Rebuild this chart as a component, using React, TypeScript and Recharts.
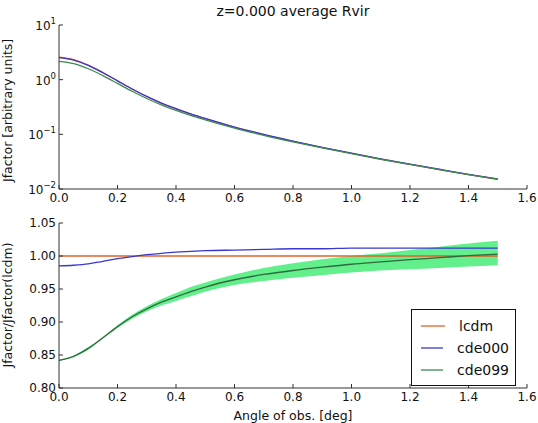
import React from "react";
import {
  ComposedChart,
  Line,
  Area,
  XAxis,
  YAxis,
  Legend,
} from "recharts";

// angle of observation [deg]
const angles = [0, 0.05, 0.1, 0.15, 0.2, 0.25, 0.3, 0.35, 0.4, 0.45, 0.5, 0.6, 0.7, 0.8, 0.9, 1.0, 1.1, 1.2, 1.3, 1.4, 1.5];

// Jfactor, arbitrary units
const jLcdm = [2.57, 2.317, 1.841, 1.349, 0.955, 0.676, 0.492, 0.372, 0.292, 0.234, 0.193, 0.135, 0.0989, 0.0746, 0.0573, 0.0447, 0.0353, 0.0282, 0.0227, 0.0184, 0.015];
const jCde000 = [2.531, 2.285, 1.819, 1.338, 0.951, 0.675, 0.493, 0.373, 0.294, 0.2356, 0.195, 0.136, 0.0999, 0.0754, 0.0579, 0.0452, 0.0357, 0.0285, 0.023, 0.0186, 0.0152];
const jCde099 = [2.164, 1.965, 1.583, 1.182, 0.853, 0.614, 0.453, 0.346, 0.274, 0.2214, 0.184, 0.13, 0.0961, 0.073, 0.0564, 0.0442, 0.035, 0.0281, 0.0227, 0.0184, 0.0151];

// ratio to lcdm
const rLcdm = [1, 1, 1, 1, 1, 1, 1, 1, 1, 1, 1, 1, 1, 1, 1, 1, 1, 1, 1, 1, 1];
const rCde000 = [0.985, 0.986, 0.988, 0.992, 0.996, 0.999, 1.002, 1.004, 1.006, 1.007, 1.008, 1.009, 1.01, 1.011, 1.011, 1.012, 1.012, 1.012, 1.012, 1.012, 1.012];
const rCde099 = [0.842, 0.848, 0.86, 0.876, 0.893, 0.908, 0.92, 0.93, 0.938, 0.946, 0.953, 0.964, 0.972, 0.978, 0.983, 0.9875, 0.991, 0.9945, 0.9975, 1.0005, 1.003];
const bandLow = [0.841, 0.847, 0.858, 0.875, 0.891, 0.905, 0.916, 0.925, 0.932, 0.939, 0.946, 0.956, 0.962, 0.967, 0.971, 0.975, 0.978, 0.98, 0.982, 0.984, 0.986];
const bandHigh = [0.843, 0.849, 0.862, 0.877, 0.895, 0.911, 0.924, 0.935, 0.944, 0.953, 0.96, 0.972, 0.982, 0.989, 0.995, 1.0, 1.004, 1.009, 1.014, 1.019, 1.023];

const xTicks = [0, 0.2, 0.4, 0.6, 0.8, 1.0, 1.2, 1.4, 1.6];
const logTicks = [0.01, 0.1, 1, 10];
const logMinor = [0.02, 0.03, 0.04, 0.05, 0.06, 0.07, 0.08, 0.09, 0.2, 0.3, 0.4, 0.5, 0.6, 0.7, 0.8, 0.9, 2, 3, 4, 5, 6, 7, 8, 9];
const ratioTicks = [0.8, 0.85, 0.9, 0.95, 1.0, 1.05];

const C_LCDM = "#e0622a";
const C_000 = "#3838d0";
const C_099 = "#3d8a52";
const AX = "#333";
const FONT = "DejaVu Sans";

const topData = angles.map((a, i) => ({ a, lcdm: jLcdm[i], cde000: jCde000[i], cde099: jCde099[i] }));
const botData = angles.map((a, i) => ({
  a,
  lcdm: rLcdm[i],
  cde000: rCde000[i],
  cde099: rCde099[i],
  band: [bandLow[i], bandHigh[i]],
}));

const tickStyle = { fontSize: 12, fill: "#111", fontFamily: FONT };
const noLabel = () => <g />;

function LogTick(props: any) {
  const { x, y, payload } = props;
  const exp = Math.round(Math.log10(payload.value));
  const e = exp < 0 ? "\u2212" + Math.abs(exp) : String(exp);
  return (
    <text x={x} y={y} dy={5} textAnchor="end" fontSize={12} fontFamily={FONT} fill="#111">
      10<tspan dy={-6} fontSize={8.5}>{e}</tspan>
    </text>
  );
}

const legendItems = [
  { name: "lcdm", color: C_LCDM },
  { name: "cde000", color: C_000 },
  { name: "cde099", color: C_099 },
];

function LegendBox() {
  return (
    <div
      style={{
        border: "1px solid #111",
        background: "#fff",
        padding: "5px 6px 4px 9px",
        fontFamily: FONT,
        fontSize: 14,
        color: "#111",
        width: 88,
      }}
    >
      {legendItems.map((it) => (
        <div key={it.name} style={{ display: "flex", alignItems: "center", height: 22 }}>
          <svg width={24} height={4} style={{ marginRight: 14 }}>
            <line x1={0} y1={2} x2={24} y2={2} stroke={it.color} strokeWidth={1.3} />
          </svg>
          <span>{it.name}</span>
        </div>
      ))}
    </div>
  );
}

export default function App() {
  return (
    <div style={{ position: "absolute", left: 0, top: 0, width: 538, height: 423, background: "#fff", fontFamily: FONT }}>
      <div
        style={{ position: "absolute", left: 59, width: 468, top: 3, textAlign: "center", fontSize: 14, color: "#111" }}
      >
        z=0.000 average Rvir
      </div>
      <div style={{ position: "absolute", left: 0, top: 0 }}>
        <ComposedChart width={538} height={210} data={topData} margin={{ top: 25, right: 11, left: 9, bottom: 0 }}>
          <XAxis
            xAxisId="b"
            dataKey="a"
            type="number"
            domain={[0, 1.6]}
            ticks={xTicks}
            tickFormatter={(v: number) => v.toFixed(1)}
            height={21}
            tick={tickStyle}
            tickSize={-4}
            tickMargin={8}
            stroke={AX}
          />
          <XAxis xAxisId="t" orientation="top" dataKey="a" type="number" domain={[0, 1.6]} ticks={xTicks} height={0} tick={noLabel} tickSize={-4} stroke={AX} />
          <YAxis
            yAxisId="l"
            scale="log"
            type="number"
            domain={[0.01, 10]}
            allowDataOverflow
            ticks={logTicks}
            width={50}
            tick={<LogTick />}
            tickSize={-4}
            tickMargin={7}
            stroke={AX}
            label={{ value: "Jfactor [arbitrary units]", angle: -90, position: "insideLeft", offset: -1, dy: 75, style: { fontSize: 12.5, fill: "#111", fontFamily: FONT } }}
          />
          <YAxis yAxisId="lm" scale="log" type="number" domain={[0.01, 10]} allowDataOverflow ticks={logMinor} width={0} tick={noLabel} tickSize={-2} axisLine={false} stroke={AX} />
          <YAxis yAxisId="r" orientation="right" scale="log" type="number" domain={[0.01, 10]} allowDataOverflow ticks={logTicks} width={0} tick={noLabel} tickSize={-4} stroke={AX} />
          <YAxis yAxisId="rm" orientation="right" scale="log" type="number" domain={[0.01, 10]} allowDataOverflow ticks={logMinor} width={0} tick={noLabel} tickSize={-2} axisLine={false} stroke={AX} />
          <Line xAxisId="b" yAxisId="l" type="monotone" dataKey="lcdm" stroke={C_LCDM} strokeWidth={1.3} dot={false} isAnimationActive={false} />
          <Line xAxisId="b" yAxisId="l" type="monotone" dataKey="cde000" stroke={C_000} strokeWidth={1.3} dot={false} isAnimationActive={false} />
          <Line xAxisId="b" yAxisId="l" type="monotone" dataKey="cde099" stroke={C_099} strokeWidth={1.3} dot={false} isAnimationActive={false} />
        </ComposedChart>
      </div>
      <div style={{ position: "absolute", left: 0, top: 210 }}>
        <ComposedChart width={538} height={213} data={botData} margin={{ top: 13, right: 11, left: 9, bottom: 0 }}>
          <XAxis
            xAxisId="b"
            dataKey="a"
            type="number"
            domain={[0, 1.6]}
            ticks={xTicks}
            tickFormatter={(v: number) => v.toFixed(1)}
            height={35}
            tick={tickStyle}
            tickSize={-4}
            tickMargin={8}
            stroke={AX}
            label={{ value: "Angle of obs. [deg]", position: "insideBottom", offset: 3, style: { fontSize: 12.5, fill: "#111", fontFamily: FONT } }}
          />
          <XAxis xAxisId="t" orientation="top" dataKey="a" type="number" domain={[0, 1.6]} ticks={xTicks} height={0} tick={noLabel} tickSize={-4} stroke={AX} />
          <YAxis
            yAxisId="l"
            type="number"
            domain={[0.8, 1.05]}
            allowDataOverflow
            ticks={ratioTicks}
            tickFormatter={(v: number) => v.toFixed(2)}
            width={50}
            tick={tickStyle}
            tickSize={-4}
            tickMargin={7}
            stroke={AX}
            label={{ value: "Jfactor/Jfactor(lcdm)", angle: -90, position: "insideLeft", offset: -1, dy: 62, style: { fontSize: 12.5, fill: "#111", fontFamily: FONT } }}
          />
          <YAxis yAxisId="r" orientation="right" type="number" domain={[0.8, 1.05]} allowDataOverflow ticks={ratioTicks} width={0} tick={noLabel} tickSize={-4} stroke={AX} />
          <Area xAxisId="b" yAxisId="l" type="monotone" dataKey="band" stroke="none" fill="#62ef8c" fillOpacity={1} isAnimationActive={false} legendType="none" />
          <Line xAxisId="b" yAxisId="l" type="monotone" dataKey="lcdm" stroke={C_LCDM} strokeWidth={1.3} dot={false} isAnimationActive={false} />
          <Line xAxisId="b" yAxisId="l" type="monotone" dataKey="cde000" stroke={C_000} strokeWidth={1.3} dot={false} isAnimationActive={false} />
          <Line xAxisId="b" yAxisId="l" type="monotone" dataKey="cde099" stroke="#2f6a3e" strokeWidth={1.3} dot={false} isAnimationActive={false} />
          <Legend
            layout="horizontal"
            verticalAlign="middle"
            align="center"
            content={<LegendBox />}
            wrapperStyle={{ left: 411, top: 99, width: "auto" }}
          />
        </ComposedChart>
      </div>
    </div>
  );
}
